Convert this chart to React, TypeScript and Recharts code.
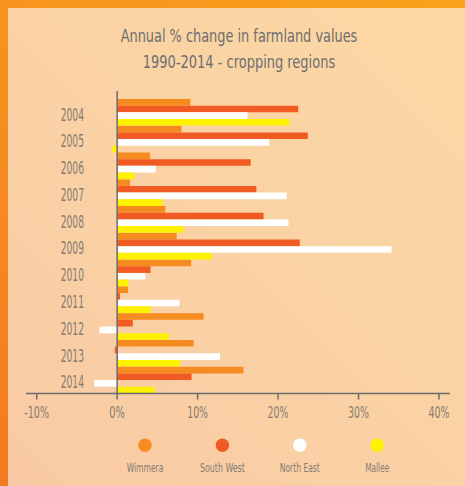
import { BarChart, Bar, XAxis, YAxis, ReferenceLine, Legend } from "recharts";

const years = ["2004", "2005", "2006", "2007", "2008", "2009", "2010", "2011", "2012", "2013", "2014"];
const wimmera = [9.1, 8.0, 4.1, 1.6, 6.0, 7.4, 9.2, 1.35, 10.75, 9.5, 15.7];
const southWest = [22.5, 23.7, 16.6, 17.3, 18.2, 22.7, 4.15, 0.35, 1.95, -0.3, 9.25];
const northEast = [16.2, 18.9, 4.8, 21.1, 21.3, 34.1, 3.5, 7.75, -2.2, 12.8, -2.85];
const mallee = [21.4, -0.6, 2.15, 5.65, 8.25, 11.75, 1.4, 4.15, 6.4, 7.85, 4.7];
const xTicks = [-10, 0, 10, 20, 30, 40];
const seriesNames = ["Wimmera", "South West", "North East", "Mallee"];

const titleLines = ["Annual % change in farmland values", "1990-2014 - cropping regions"];

const FONT = "'Liberation Sans Narrow', 'DejaVu Sans Condensed', 'Liberation Sans', sans-serif";
const AXIS_GREY = "#6b6b6d";
const LABEL_GREY = "#857b73";

// widths of the condensed face in the original artwork
const titleWidths = [236.7, 192.3];
const legendWidths: Record<string, number> = {
  Wimmera: 36.7,
  "South West": 44.7,
  "North East": 40,
  Mallee: 24,
};

const pctWidth = (s: string) =>
  s.split("").reduce((w, c) => w + (c === "%" ? 10.3 : c === "-" ? 4 : 5.3), 0);

const YearTick = ({ x, y, payload }: any) => (
  <text
    x={x + 58}
    y={y}
    dy={8.2}
    textAnchor="end"
    fill={LABEL_GREY}
    fontSize={18}
    fontFamily={FONT}
    textLength={23.3}
    lengthAdjust="spacingAndGlyphs"
  >
    {payload.value}
  </text>
);

const PctTick = ({ x, y, payload }: any) => {
  const label = `${payload.value}%`;
  return (
    <text
      x={x}
      y={y}
      dy={18.8}
      textAnchor="middle"
      fill={LABEL_GREY}
      fontSize={16.5}
      fontFamily={FONT}
      textLength={pctWidth(label)}
      lengthAdjust="spacingAndGlyphs"
    >
      {label}
    </text>
  );
};

const renderLegend = ({ payload }: any) => {
  // vertical layout hands the items over reversed, put them back in series order
  const items = [...(payload || [])].sort(
    (a: any, b: any) => seriesNames.indexOf(a.value) - seriesNames.indexOf(b.value)
  );
  return (
    <svg width={465} height={56}>
      {items.map((entry: any, i: number) => {
        const cx = 145 + i * 77.4;
        return (
          <g key={entry.value}>
            <circle cx={cx} cy={15.3} r={6.7} fill={entry.color} />
            <text
              x={cx}
              y={42}
              textAnchor="middle"
              fill={LABEL_GREY}
              fontSize={13}
              fontFamily={FONT}
              textLength={legendWidths[entry.value]}
              lengthAdjust="spacingAndGlyphs"
            >
              {entry.value}
            </text>
          </g>
        );
      })}
    </svg>
  );
};

export default function App() {
  const chartData = years.map((year, i) => ({
    year,
    wimmera: wimmera[i],
    southWest: southWest[i],
    northEast: northEast[i],
    mallee: mallee[i],
  }));

  return (
    <div
      style={{
        position: "absolute",
        left: 0,
        top: 0,
        width: 465,
        height: 486,
        overflow: "hidden",
        background: "linear-gradient(225deg, #fcd7a3 0%, #fad2a4 50%, #f9caa5 100%)",
      }}
    >
      <div
        style={{
          position: "absolute",
          left: 0,
          top: 0,
          width: 465,
          height: 8,
          background: "linear-gradient(90deg, #f7941e, #faa21b)",
        }}
      />
      <div
        style={{
          position: "absolute",
          left: 0,
          top: 0,
          width: 8,
          height: 486,
          background: "linear-gradient(180deg, #f7941e, #f47a20)",
        }}
      />
      <svg style={{ position: "absolute", left: 0, top: 0 }} width={465} height={80}>
        {titleLines.map((line, i) => (
          <text
            key={line}
            x={239}
            y={41.7 + i * 26.6}
            textAnchor="middle"
            fill="#6d6e71"
            fontSize={18.5}
            fontFamily={FONT}
            textLength={titleWidths[i]}
            lengthAdjust="spacingAndGlyphs"
          >
            {line}
          </text>
        ))}
      </svg>
      <div style={{ position: "absolute", left: 0, top: 0 }}>
        <BarChart
          width={465}
          height={486}
          data={chartData}
          layout="vertical"
          margin={{ top: 91, right: 15, bottom: 62.5, left: 0 }}
          barGap={0}
          barCategoryGap={0}
        >
          <XAxis
            type="number"
            domain={[-11.33, 41.37]}
            ticks={xTicks}
            height={30}
            tickSize={6}
            tickMargin={0}
            axisLine={{ stroke: AXIS_GREY, strokeWidth: 1.5 }}
            tickLine={{ stroke: AXIS_GREY, strokeWidth: 1.5 }}
            tick={<PctTick />}
            interval={0}
          />
          <YAxis
            type="category"
            dataKey="year"
            width={26}
            padding={{ top: 8, bottom: 0 }}
            axisLine={false}
            tickLine={false}
            tickSize={0}
            tickMargin={0}
            tick={<YearTick />}
            interval={0}
          />
          <ReferenceLine x={0} stroke={AXIS_GREY} strokeWidth={1.5} />
          <Bar dataKey="wimmera" name="Wimmera" fill="#f68c20" barSize={6.65} isAnimationActive={false} />
          <Bar dataKey="southWest" name="South West" fill="#f15a22" barSize={6.65} isAnimationActive={false} />
          <Bar dataKey="northEast" name="North East" fill="#ffffff" barSize={6.65} isAnimationActive={false} />
          <Bar dataKey="mallee" name="Mallee" fill="#fff200" barSize={6.65} isAnimationActive={false} />
          <Legend
            verticalAlign="middle"
            align="center"
            content={renderLegend}
            wrapperStyle={{ top: 430, left: 0, width: 465, height: 56 }}
          />
        </BarChart>
      </div>
    </div>
  );
}
